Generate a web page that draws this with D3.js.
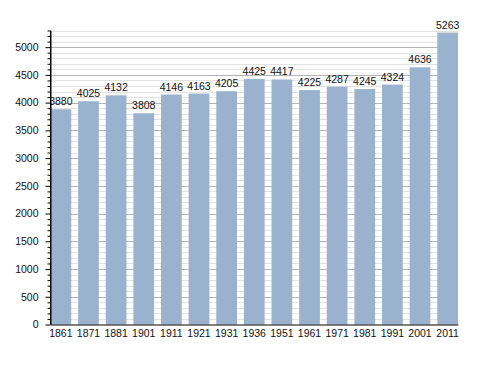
<!DOCTYPE html>
<html><head><meta charset="utf-8">
<script src="https://cdn.jsdelivr.net/npm/d3@7"></script>
<style>body{margin:0;background:#fff}svg{display:block}</style>
</head><body>
<script>
const years = ["1861","1871","1881","1901","1911","1921","1931","1936","1951","1961","1971","1981","1991","2001","2011"];
const population = [3880,4025,4132,3808,4146,4163,4205,4425,4417,4225,4287,4245,4324,4636,5263];
const yMax = 5300;

(function () {
const W = 488, H = 373;
const mLeft = 50.5, mRight = 458, mTop = 30.5, mBottom = 324.5;
const svg = d3.select("body").append("svg").attr("width", W).attr("height", H);
const font = "Liberation Sans, Arial, sans-serif";
const fs = 10.5;

const x = d3.scaleBand().domain(years).range([mLeft, mRight]).paddingInner(0.25).paddingOuter(0);
const y = d3.scaleLinear().domain([0, yMax]).range([mBottom, mTop]);

// minor gridlines
const minor = d3.range(100, yMax + 1, 100).filter(v => v % 500 !== 0);
svg.append("g").selectAll("line").data(minor).join("line")
  .attr("x1", mLeft).attr("x2", mRight)
  .attr("y1", d => Math.round(y(d)) + 0.5).attr("y2", d => Math.round(y(d)) + 0.5)
  .attr("stroke", "#e2e2e2").attr("stroke-width", 1);
const major = d3.range(500, yMax + 1, 500);
svg.append("g").selectAll("line").data(major).join("line")
  .attr("x1", mLeft).attr("x2", mRight)
  .attr("y1", d => Math.round(y(d)) + 0.5).attr("y2", d => Math.round(y(d)) + 0.5)
  .attr("stroke", "#b4b4b4").attr("stroke-width", 1);

// bars
svg.append("g").selectAll("rect").data(years).join("rect")
  .attr("x", d => x(d)).attr("width", x.bandwidth())
  .attr("y", (d, i) => y(population[i])).attr("height", (d, i) => mBottom - y(population[i]))
  .attr("fill", "#9ab2cd");

// value labels
svg.append("g").selectAll("text").data(years).join("text")
  .attr("x", d => x(d) + x.bandwidth() / 2)
  .attr("y", (d, i) => y(population[i]) - 4)
  .attr("text-anchor", "middle").attr("font-family", font).attr("font-size", fs)
  .attr("fill", "#111").text((d, i) => population[i]);

// y axis
const yAxis = d3.axisLeft(y).tickValues(d3.range(0, yMax + 1, 500)).tickFormat(d3.format("d"))
  .tickSize(5).tickSizeOuter(0).tickPadding(7);
const gy = svg.append("g").attr("transform", `translate(${mLeft},0)`).call(yAxis);
gy.selectAll("text").attr("font-family", font).attr("font-size", fs).attr("fill", "#111");
gy.select(".domain").attr("stroke", "#000");
const yMinor = d3.axisLeft(y).tickValues(minor).tickSize(3).tickFormat("").tickSizeOuter(0);
svg.append("g").attr("transform", `translate(${mLeft},0)`).call(yMinor).select(".domain").remove();
svg.append("line").attr("x1", mLeft).attr("x2", mLeft).attr("y1", mTop).attr("y2", mBottom).attr("stroke", "#000");

// x axis
const xAxis = d3.axisBottom(x).tickSize(0).tickPadding(5).tickSizeOuter(0);
const gx = svg.append("g").attr("transform", `translate(0,${mBottom})`).call(xAxis);
gx.selectAll("text").attr("font-family", font).attr("font-size", fs).attr("fill", "#111");
gx.select(".domain").attr("stroke", "#000");
})();
</script>
</body></html>
